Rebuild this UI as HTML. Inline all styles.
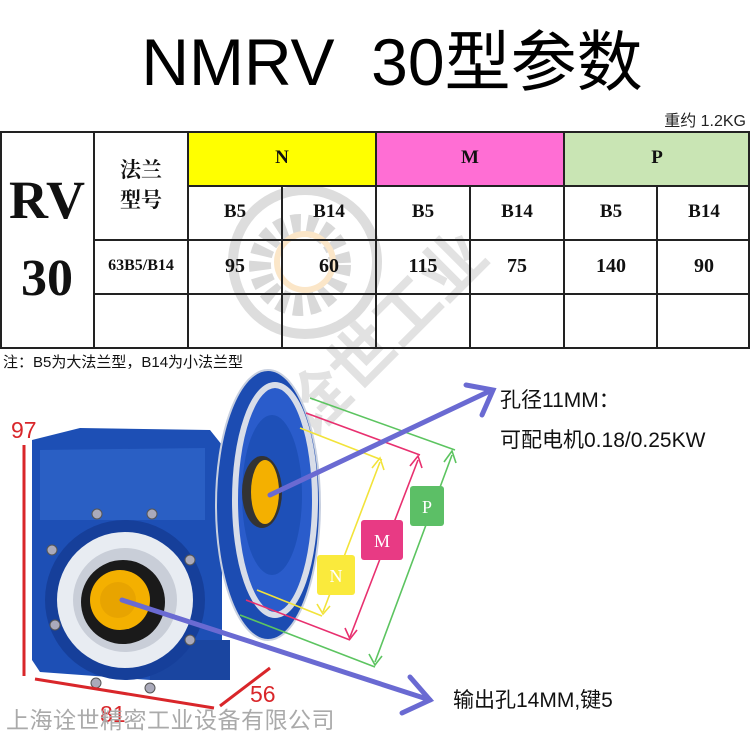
<!DOCTYPE html>
<html><head><meta charset="utf-8"><style>
body{margin:0;width:750px;height:750px;background:#fff;position:relative;overflow:hidden;font-family:"Liberation Sans","Noto Sans CJK SC",sans-serif}
.a{position:absolute}
.c{position:absolute;display:flex;align-items:center;justify-content:center;font-family:"Liberation Serif","Noto Serif CJK SC",serif;font-weight:bold;color:#111;font-size:19px}
.n{font-size:20px}
.l{position:absolute;background:#222}
</style></head><body>
<div class="a" style="left:0;top:22px;width:750px;text-align:center;font-size:66px;color:#000;line-height:80px;padding-left:34px;box-sizing:border-box">NMRV&nbsp; 30型参数</div>
<div class="a" style="right:4px;top:107px;font-size:16px;color:#222">重约 1.2KG</div>

<div class="c" style="left:188px;top:131px;width:188px;height:54px;background:#ffff00">N</div>
<div class="c" style="left:376px;top:131px;width:188px;height:54px;background:#ff6ed4">M</div>
<div class="c" style="left:564px;top:131px;width:186px;height:54px;background:#c9e5b4">P</div>

<svg class="a" style="left:0;top:0" width="750" height="750">
<circle cx="305" cy="262" r="72" fill="none" stroke="#ddd" stroke-width="10"/>
<circle cx="300" cy="265" r="40" fill="none" stroke="#d9d9d9" stroke-width="22" stroke-dasharray="9 6"/>
<circle cx="305" cy="262" r="28" fill="none" stroke="#fbe6c8" stroke-width="6"/>
<text x="0" y="0" transform="translate(310,440) rotate(-45)" font-size="64" font-weight="bold" fill="#e2e2e2" font-family="Noto Sans CJK SC,sans-serif">诠世工业</text>
</svg>

<div class="l" style="left:0;top:131px;width:750px;height:2px"></div>
<div class="l" style="left:0;top:347px;width:750px;height:2px"></div>
<div class="l" style="left:188px;top:185px;width:562px;height:2px"></div>
<div class="l" style="left:94px;top:239px;width:656px;height:2px"></div>
<div class="l" style="left:94px;top:293px;width:656px;height:2px"></div>
<div class="l" style="left:0;top:131px;width:2px;height:218px"></div>
<div class="l" style="left:93px;top:131px;width:2px;height:218px"></div>
<div class="l" style="left:187px;top:131px;width:2px;height:218px"></div>
<div class="l" style="left:375px;top:131px;width:2px;height:218px"></div>
<div class="l" style="left:563px;top:131px;width:2px;height:218px"></div>
<div class="l" style="left:748px;top:131px;width:2px;height:218px"></div>
<div class="l" style="left:281px;top:185px;width:2px;height:164px"></div>
<div class="l" style="left:469px;top:185px;width:2px;height:164px"></div>
<div class="l" style="left:656px;top:185px;width:2px;height:164px"></div>

<div class="c" style="left:0;top:170px;width:94px;height:60px;font-size:54px">RV</div>
<div class="c" style="left:0;top:248px;width:94px;height:60px;font-size:52px">30</div>
<div class="c" style="left:94px;top:150px;width:94px;height:70px;font-size:21px;line-height:30px;text-align:center">法兰<br>型号</div>
<div class="c" style="left:94px;top:239px;width:94px;height:54px;font-size:16px">63B5/B14</div>
<div class="c" style="left:188px;top:185px;width:94px;height:54px">B5</div>
<div class="c" style="left:282px;top:185px;width:94px;height:54px">B14</div>
<div class="c" style="left:376px;top:185px;width:94px;height:54px">B5</div>
<div class="c" style="left:470px;top:185px;width:94px;height:54px">B14</div>
<div class="c" style="left:564px;top:185px;width:94px;height:54px">B5</div>
<div class="c" style="left:658px;top:185px;width:92px;height:54px">B14</div>
<div class="c n" style="left:188px;top:239px;width:94px;height:54px">95</div>
<div class="c n" style="left:282px;top:239px;width:94px;height:54px">60</div>
<div class="c n" style="left:376px;top:239px;width:94px;height:54px">115</div>
<div class="c n" style="left:470px;top:239px;width:94px;height:54px">75</div>
<div class="c n" style="left:564px;top:239px;width:94px;height:54px">140</div>
<div class="c n" style="left:658px;top:239px;width:92px;height:54px">90</div>

<div class="a" style="left:3px;top:351px;font-size:15px;color:#111">注：B5为大法兰型，B14为小法兰型</div>

<svg class="a" style="left:0;top:0" width="750" height="750">
<path d="M32,440 L80,428 L210,430 L222,445 L222,640 L210,672 L150,680 L40,672 L32,660 Z" fill="#1d4fb5"/>
<path d="M40,450 L205,448 L205,520 L40,520 Z" fill="#2a5fc4"/>
<rect x="150" y="640" width="80" height="40" fill="#1a45a0"/>
<circle cx="125" cy="600" r="80" fill="#163f9a"/>
<circle cx="125" cy="600" r="68" fill="#e8ecf2"/>
<circle cx="125" cy="600" r="52" fill="#c9ced8"/>
<circle cx="123" cy="602" r="42" fill="#1a1a1a"/>
<circle cx="120" cy="600" r="30" fill="#f4b000"/>
<circle cx="118" cy="600" r="18" fill="#e8a400"/>
<g fill="#aab" stroke="#555" stroke-width="1">
<circle cx="97" cy="514" r="5"/><circle cx="152" cy="514" r="5"/><circle cx="190" cy="560" r="5"/><circle cx="190" cy="640" r="5"/><circle cx="150" cy="688" r="5"/><circle cx="96" cy="683" r="5"/><circle cx="55" cy="625" r="5"/><circle cx="52" cy="550" r="5"/></g>
<ellipse cx="268" cy="505" rx="52" ry="135" fill="#1c4cb2" stroke="#c8d0e0" stroke-width="2"/>
<ellipse cx="275" cy="500" rx="40" ry="115" fill="#2a5ccb" stroke="#d8dde8" stroke-width="6"/>
<ellipse cx="272" cy="495" rx="30" ry="80" fill="#1e50b8"/>
<ellipse cx="262" cy="492" rx="20" ry="36" fill="#333"/>
<ellipse cx="265" cy="492" rx="14" ry="32" fill="#f4b000"/>
<g fill="none" stroke-width="1.6">
<path d="M300,428 L382,460 M257,590 L322,616 M380,462 L323,612" stroke="#f2e33a"/>
<path d="M306,413 L420,455 M246,600 L350,640 M418,460 L350,637" stroke="#e8306f"/>
<path d="M310,398 L455,450 M240,615 L375,667 M452,455 L375,662" stroke="#5cc460"/>
<path d="M372,468 L380,458 L384,470 M317,604 L323,614 L330,606" stroke="#f2e33a"/>
<path d="M410,466 L418,456 L422,468 M345,628 L350,639 L357,630" stroke="#e8306f"/>
<path d="M444,462 L452,451 L456,463 M369,654 L375,665 L382,656" stroke="#5cc460"/>
</g>
<rect x="317" y="555" width="38" height="40" rx="3" fill="#faea3c"/>
<text x="336" y="582" font-size="18" fill="#fff" text-anchor="middle" font-family="Liberation Serif,serif">N</text>
<rect x="361" y="520" width="42" height="40" rx="3" fill="#e83a84"/>
<text x="382" y="547" font-size="18" fill="#fff" text-anchor="middle" font-family="Liberation Serif,serif">M</text>
<rect x="410" y="486" width="34" height="40" rx="3" fill="#5cbf66"/>
<text x="427" y="513" font-size="18" fill="#fff" text-anchor="middle" font-family="Liberation Serif,serif">P</text>
<g stroke="#6a6ad2" stroke-width="5" fill="none" stroke-linecap="round">
<path d="M270,495 L492,390"/><path d="M466,385 L493,390 L482,415"/>
<path d="M122,600 L430,700"/><path d="M410,677 L430,700 L402,713"/>
</g>
<g stroke="#d9262a" stroke-width="3">
<path d="M24,445 L24,676"/><path d="M35,679 L214,708"/><path d="M220,706 L270,668"/>
</g>
<g fill="#d9262a" font-size="23" font-family="Liberation Sans,sans-serif">
<text x="11" y="438">97</text><text x="100" y="722">81</text><text x="250" y="702">56</text>
</g>
</svg>
<div class="a" style="left:500px;top:384px;font-size:21px;color:#111">孔径11MM：</div>
<div class="a" style="left:500px;top:424px;font-size:21px;color:#111">可配电机0.18/0.25KW</div>
<div class="a" style="left:453px;top:684px;font-size:21px;color:#111">输出孔14MM,键5</div>
<div class="a" style="left:6px;top:701px;font-size:23px;color:#aaa;letter-spacing:0.5px">上海诠世精密工业设备有限公司</div>
</body></html>
